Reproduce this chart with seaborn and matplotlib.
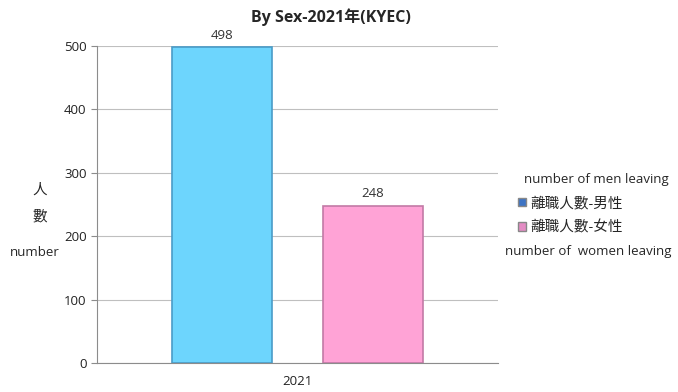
import seaborn as sns
import matplotlib.pyplot as plt
import pandas as pd

years = ["2021", "2021"]
sexes = ["離職人數-男性", "離職人數-女性"]
counts = [498, 248]
bar_colors = ["#6dd5fd", "#ffa3d6"]
edge_colors = ["#4a9cc8", "#c27aa6"]
legend_colors = ["#3d74c4", "#e48cc4"]

df = pd.DataFrame({"year": years, "sex": sexes, "count": counts})

sns.set_style("white")
plt.rcParams["font.family"] = ["Open Sans", "Noto Sans CJK TC", "DejaVu Sans"]

fig = plt.figure(figsize=(6.78, 3.92), dpi=100)
ax = fig.add_axes([0.143, 0.074, 0.591, 0.809])

sns.barplot(data=df, x="year", y="count", hue="sex", palette=bar_colors,
            width=0.753, gap=0.338, ax=ax, saturation=1)

for bar, ec in zip(ax.patches[:2], edge_colors):
    bar.set_edgecolor(ec)
    bar.set_linewidth(1.2)

for cont in ax.containers:
    ax.bar_label(cont, padding=4, fontsize=9.5, color="#333333")

ax.set_ylim(0, 500)
ax.set_yticks(range(0, 501, 100))
ax.yaxis.grid(True, color="#bfbfbf", linewidth=0.8)
ax.set_axisbelow(True)
ax.tick_params(axis="y", length=4, color="#8c8c8c", labelsize=9.5, labelcolor="#222222", left=True)
ax.tick_params(axis="x", length=0, labelsize=9.5, labelcolor="#222222", pad=9)
for s in ["top", "right"]:
    ax.spines[s].set_visible(False)
for s in ["left", "bottom"]:
    ax.spines[s].set_color("#8c8c8c")
    ax.spines[s].set_linewidth(0.8)
ax.set_xlabel("")
ax.set_ylabel("")

# title placed above the value labels
fig.text(331 / 678, 1 - 17 / 392, "By Sex-2021年(KYEC)", ha="center", va="center",
         fontsize=11.5, fontweight="bold")

fig.text(40 / 678, 1 - 190 / 392, "人", ha="center", va="center", fontsize=10.5)
fig.text(40 / 678, 1 - 217 / 392, "數", ha="center", va="center", fontsize=10.5)
fig.text(35 / 678, 1 - 252 / 392, "number", ha="center", va="center", fontsize=9.5)

leg = ax.legend(loc="center left", bbox_to_anchor=(505 / 678, 1 - 216 / 392),
                bbox_transform=fig.transFigure, frameon=False, fontsize=10.5,
                handlelength=0.55, handleheight=0.55, handletextpad=0.3, labelspacing=0.65)
for h, c in zip(leg.legend_handles, legend_colors):
    h.set_facecolor(c)
    h.set_edgecolor("#888888")

fig.text(596 / 678, 1 - 179 / 392, "number of men leaving", ha="center", va="center", fontsize=9.5)
fig.text(588 / 678, 1 - 252 / 392, "number of  women leaving", ha="center", va="center", fontsize=9.5)

fig.savefig("out.png", dpi=100)
